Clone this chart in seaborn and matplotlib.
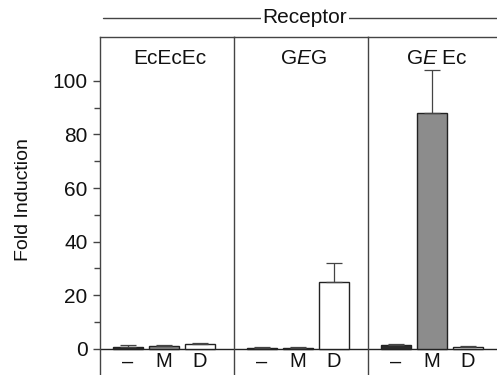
import numpy as np
import pandas as pd
import seaborn as sns
import matplotlib.pyplot as plt

sns.set_style('ticks')
plt.rcParams['font.family'] = ['Liberation Sans', 'DejaVu Sans']
plt.rcParams['mathtext.fontset'] = 'custom'
plt.rcParams['mathtext.rm'] = 'Liberation Sans'
plt.rcParams['mathtext.it'] = 'Liberation Sans:italic'
for k in ['text.color', 'axes.labelcolor', 'xtick.color', 'ytick.color']:
    plt.rcParams[k] = '#111111'

receptors = ['EcEcEc', 'G$\\mathit{E}$G', 'G$\\mathit{E}$ Ec']
treatments = ['\u2013', 'M', 'D']
fold = [[0.6, 1.0, 1.8],
        [0.4, 0.4, 25.0],
        [1.3, 88.0, 0.6]]
err_up = [[0.6, 0.5, 0.4],
          [0.3, 0.3, 7.0],
          [0.3, 16.0, 0.4]]
colors = {'\u2013': '#2b2b2b', 'M': '#8c8c8c', 'D': 'white'}

df = pd.DataFrame({
    'receptor': np.repeat(receptors, len(treatments)),
    'treatment': treatments * len(receptors),
    'fold': np.ravel(fold),
    'err': np.ravel(err_up),
})

fig, axes = plt.subplots(1, 3, sharey=True, figsize=(4.97, 3.75), dpi=100)
fig.subplots_adjust(left=100 / 497, right=502 / 497, top=1 - 37 / 375,
                    bottom=-5 / 375, wspace=0)

for ax, rec in zip(axes, receptors):
    sub = df[df.receptor == rec]
    sns.barplot(data=sub, x='treatment', y='fold', hue='treatment',
                palette=colors, order=treatments, hue_order=treatments,
                edgecolor='#222222', linewidth=1.0, width=0.82,
                legend=False, errorbar=None, ax=ax)
    ax.errorbar(np.arange(len(treatments)), sub.fold,
                yerr=[np.zeros(len(sub)), sub.err], fmt='none',
                ecolor='#444444', elinewidth=0.9, capsize=6, capthick=0.9)
    ax.axhline(0, color='#222222', lw=1.0, zorder=0)
    for i, t in enumerate(treatments):
        ax.text(i, -1.4, t, ha='center', va='top', fontsize=14.5)
    ax.text(1.15, (380 - 58) / 343, rec, transform=ax.get_xaxis_transform(),
            ha='center', va='center', fontsize=15)
    ax.set_xlim(-0.78, 2.95)
    ax.set_xticks([])
    ax.set_xlabel('')
    ax.set_ylabel('')
    for s in ['top', 'left']:
        ax.spines[s].set_color('#444444')
        ax.spines[s].set_linewidth(1.0)
    ax.spines['bottom'].set_visible(False)
    ax.spines['right'].set_visible(ax is axes[-1])

axes[0].set_ylim(-11.7, 116.4)
axes[0].set_yticks(np.arange(0, 101, 20))
axes[0].set_yticks(np.arange(10, 100, 20), minor=True)
axes[0].tick_params(axis='y', which='major', length=5, width=1, pad=4,
                    labelsize=15, color='#444444')
axes[0].tick_params(axis='y', which='minor', length=4, width=1,
                    color='#444444')
for ax in axes[1:]:
    ax.tick_params(axis='y', which='both', left=False)
axes[0].set_ylabel('Fold Induction', fontsize=14)
axes[0].yaxis.set_label_coords(-0.51, (380 - 200) / 343)

# Receptor header line over all panels
hdr_y = 1 + 19 / 343
axes[0].plot([0.02, 3.0], [hdr_y, hdr_y], transform=axes[0].transAxes,
             color='#444444', lw=1.0, clip_on=False)
axes[0].text(1.53, hdr_y, 'Receptor', transform=axes[0].transAxes,
             ha='center', va='center', fontsize=15,
             bbox=dict(facecolor='white', edgecolor='none', pad=1))

plt.savefig('out.png', dpi=100)
